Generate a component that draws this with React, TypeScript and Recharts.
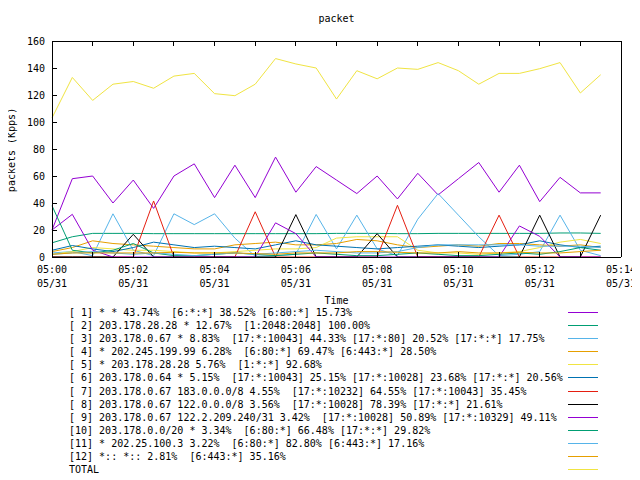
import React from 'react'
import { LineChart, Line, XAxis, YAxis, Legend } from 'recharts'

// time axis, in minutes after 05:00 (one sample every 30 s)
const minutes = [0, 0.5, 1, 1.5, 2, 2.5, 3, 3.5, 4, 4.5, 5, 5.5, 6, 6.5, 7, 7.5, 8, 8.5, 9, 9.5, 10, 10.5, 11, 11.5, 12, 12.5, 13, 13.5]

// Kpps per flow
const s1 = [20, 58, 60, 40, 57, 36, 60, 69, 44, 68, 44, 74, 48, 67, 57, 47, 60, 43, 62, 46, 58, 70, 48, 68, 41, 59, 47.5, 47.5]
const s2 = [10.5, 15, 17.5, 17.5, 17.5, 17.3, 17.3, 17.3, 17.3, 17.3, 17.3, 17.3, 17.3, 17.3, 17.5, 17.5, 17.5, 17.3, 17.3, 17.5, 17.5, 17.5, 17.5, 17.5, 17.5, 17.8, 17.8, 17.5]
const s3 = [3, 4, 1, 32, 5, 1, 32, 24, 32, 14, 0.5, 1, 2, 31.5, 6, 31, 6, 1, 28, 47, 31, 15, 1, 2, 4, 31, 5, 1]
const s4 = [4, 7, 12, 10, 9, 8, 7, 6, 6, 9, 10, 11, 9, 9, 10, 13, 12, 9, 7, 8, 9, 8, 10, 10, 9, 8, 9, 7]
const s5 = [2, 4, 7, 6, 5, 5, 4, 3, 3, 4, 5, 6, 6, 7, 14, 15, 15, 15, 5, 3, 3, 2, 3, 4, 7, 11, 13, 10]
const s6 = [5, 8.5, 6, 4, 7, 11, 9, 7, 8, 7, 6, 9, 12, 9, 8, 7, 6, 7, 8, 9, 8, 7, 8, 9, 12, 9, 7, 8]
const s7 = [0, 0, 0, 0, 0, 41.5, 0, 0, 0, 0, 33.5, 0, 0, 0, 0, 0, 0, 38.3, 0, 0, 0, 0, 31, 0, 0, 0, 0, 0]
const s8 = [0, 0, 0, 0, 16.8, 0, 0, 0, 0, 0, 0, 0, 31.4, 0, 0, 0, 17.3, 0, 0, 0, 0, 0, 0, 0, 31, 0, 0, 31]
const s9 = [20, 31.6, 5, 0, 0, 0, 0, 0, 0, 0, 0, 25.3, 17.3, 0, 0, 0, 0, 0, 0, 0, 0, 0, 0, 23, 15.3, 0, 0, 0]
const s10 = [38, 5, 3, 5, 10, 3, 1, 1, 2, 3, 2, 1, 2, 3, 2, 1, 1, 2, 3, 2, 1, 1, 2, 3, 2, 4, 7, 5]
const s11 = [2, 3, 4, 3, 2, 3, 2, 1, 2, 3, 2, 3, 4, 5, 4, 3, 3, 4, 7, 9, 9, 9, 9, 9, 8, 8, 8, 7]
const s12 = [2, 3, 3, 3, 3, 3, 3.5, 3, 3, 3, 2.5, 2, 3, 3, 3, 4, 4, 3.5, 3, 3, 4, 3, 3, 3.5, 3, 3, 4, 5]
const total = [103, 133, 116, 128, 130, 125, 134, 136, 121, 119.5, 128, 147, 143, 140, 117, 138, 132, 140, 139, 144, 138, 128, 136, 136, 139.5, 144, 121.5, 135]

const seriesValues = [s1, s2, s3, s4, s5, s6, s7, s8, s9, s10, s11, s12, total]

const seriesNames = [
  '[ 1] * * 43.74%  [6:*:*] 38.52% [6:80:*] 15.73%',
  '[ 2] 203.178.28.28 * 12.67%  [1:2048:2048] 100.00%',
  '[ 3] 203.178.0.67 * 8.83%  [17:*:10043] 44.33% [17:*:80] 20.52% [17:*:*] 17.75%',
  '[ 4] * 202.245.199.99 6.28%  [6:80:*] 69.47% [6:443:*] 28.50%',
  '[ 5] * 203.178.28.28 5.76%  [1:*:*] 92.68%',
  '[ 6] 203.178.0.64 * 5.15%  [17:*:10043] 25.15% [17:*:10028] 23.68% [17:*:*] 20.56%',
  '[ 7] 203.178.0.67 183.0.0.0/8 4.55%  [17:*:10232] 64.55% [17:*:10043] 35.45%',
  '[ 8] 203.178.0.67 122.0.0.0/8 3.56%  [17:*:10028] 78.39% [17:*:*] 21.61%',
  '[ 9] 203.178.0.67 122.2.209.240/31 3.42%  [17:*:10028] 50.89% [17:*:10329] 49.11%',
  '[10] 203.178.0.0/20 * 3.34%  [6:80:*] 66.48% [17:*:*] 29.82%',
  '[11] * 202.25.100.3 3.22%  [6:80:*] 82.80% [6:443:*] 17.16%',
  '[12] *:: *:: 2.81%  [6:443:*] 35.16%',
  'TOTAL',
]

// gnuplot default line colours, cycled
const PALETTE = ['#9400d3', '#009e73', '#56b4e9', '#e69f00', '#f0e442', '#0072b2', '#e51e10', '#000000']

// ticks: every minute, labelled every two minutes
const xTicks = [0, 1, 2, 3, 4, 5, 6, 7, 8, 9, 10, 11, 12, 13, 14]
const xTickLabels = ['05:00', '05:02', '05:04', '05:06', '05:08', '05:10', '05:12', '05:14']
const dateLabel = '05/31'
const yTicks = [0, 20, 40, 60, 80, 100, 120, 140, 160]

const FONT = "'DejaVu Sans Mono', monospace"
const TIC = 5

const data = minutes.map((m, i) => {
  const row: Record<string, number> = { t: m }
  seriesValues.forEach((vals, k) => {
    row[`s${k}`] = vals[i]
  })
  return row
})

const BottomTick = ({ x, y, payload }: any) => {
  const m = payload.value
  const label = m % 2 === 0 ? xTickLabels[m / 2] : null
  return (
    <g>
      <line x1={x} y1={y} x2={x} y2={y - TIC} stroke="#000" shapeRendering="crispEdges" />
      {label && (
        <text x={x} y={y + 16} textAnchor="middle" fontFamily={FONT} fontSize={10} fill="#000">
          {label}
        </text>
      )}
      {label && (
        <text x={x} y={y + 30} textAnchor="middle" fontFamily={FONT} fontSize={10} fill="#000">
          {dateLabel}
        </text>
      )}
    </g>
  )
}

const TopTick = ({ x, y }: any) => (
  <line x1={x} y1={y} x2={x} y2={y + TIC} stroke="#000" shapeRendering="crispEdges" />
)

const LeftTick = ({ x, y, payload }: any) => (
  <g>
    <line x1={x} y1={y} x2={x + TIC} y2={y} stroke="#000" shapeRendering="crispEdges" />
    <text x={x - 7} y={y + 3.5} textAnchor="end" fontFamily={FONT} fontSize={10} fill="#000">
      {payload.value}
    </text>
  </g>
)

const RightTick = ({ x, y }: any) => (
  <line x1={x} y1={y} x2={x - TIC} y2={y} stroke="#000" shapeRendering="crispEdges" />
)

const renderTitle = (props: any) => {
  const vb = props.viewBox
  return (
    <text x={vb.x + vb.width / 2} y={22} textAnchor="middle" fontFamily={FONT} fontSize={10} fill="#000">
      packet
    </text>
  )
}

const renderTimeLabel = (props: any) => {
  const vb = props.viewBox
  return (
    <text x={vb.x + vb.width / 2} y={vb.y + 47} textAnchor="middle" fontFamily={FONT} fontSize={10} fill="#000">
      Time
    </text>
  )
}

const renderYLabel = () => (
  <text
    x={15}
    y={150}
    transform="rotate(-90 15 150)"
    textAnchor="middle"
    fontFamily={FONT}
    fontSize={10}
    fill="#000"
  >
    packets (Kpps)
  </text>
)

const renderLegend = () => (
  <div style={{ fontFamily: FONT, fontSize: 10, color: '#000' }}>
    {seriesNames.map((name, k) => (
      <div key={name} style={{ position: 'relative', height: 13.1 }}>
        <span style={{ position: 'absolute', left: 69, top: 0, lineHeight: '13.1px', whiteSpace: 'pre' }}>{name}</span>
        <div
          style={{
            position: 'absolute',
            left: 568,
            top: 6,
            width: 30,
            height: 1,
            background: PALETTE[k % PALETTE.length],
          }}
        />
      </div>
    ))}
  </div>
)

const axisLine = { stroke: '#000', shapeRendering: 'crispEdges' }

export default function App() {
  // pull the chart over the body margin so chart pixels == page pixels
  return (
    <div style={{ margin: '-8px 0 0 -8px', width: 640, height: 480 }}>
      <LineChart width={640} height={480} data={data} margin={{ top: 40, right: 18, bottom: 183, left: 0 }}>
        <XAxis
          dataKey="t"
          type="number"
          domain={[0, 14]}
          ticks={xTicks}
          interval={0}
          height={40}
          tickSize={0}
          tickMargin={0}
          tickLine={false}
          axisLine={axisLine}
          tick={BottomTick}
          label={renderTimeLabel}
        />
        <XAxis
          xAxisId="top"
          orientation="top"
          dataKey="t"
          type="number"
          domain={[0, 14]}
          ticks={xTicks}
          interval={0}
          height={1}
          tickSize={0}
          tickMargin={0}
          tickLine={false}
          axisLine={axisLine}
          tick={TopTick}
          label={renderTitle}
        />
        <YAxis
          type="number"
          domain={[0, 160]}
          ticks={yTicks}
          interval={0}
          width={52}
          tickSize={0}
          tickMargin={0}
          tickLine={false}
          axisLine={axisLine}
          tick={LeftTick}
          label={renderYLabel}
        />
        <YAxis
          yAxisId="right"
          orientation="right"
          type="number"
          domain={[0, 160]}
          ticks={yTicks}
          interval={0}
          width={1}
          tickSize={0}
          tickMargin={0}
          tickLine={false}
          axisLine={axisLine}
          tick={RightTick}
        />
        {seriesNames.map((name, k) => (
          <Line
            key={name}
            dataKey={`s${k}`}
            name={name}
            type="linear"
            stroke={PALETTE[k % PALETTE.length]}
            strokeWidth={1}
            dot={false}
            activeDot={false}
            isAnimationActive={false}
          />
        ))}
        <Legend
          content={renderLegend}
          wrapperStyle={{ position: 'absolute', left: 0, top: 306, width: 640, height: 0 }}
        />
      </LineChart>
    </div>
  )
}
